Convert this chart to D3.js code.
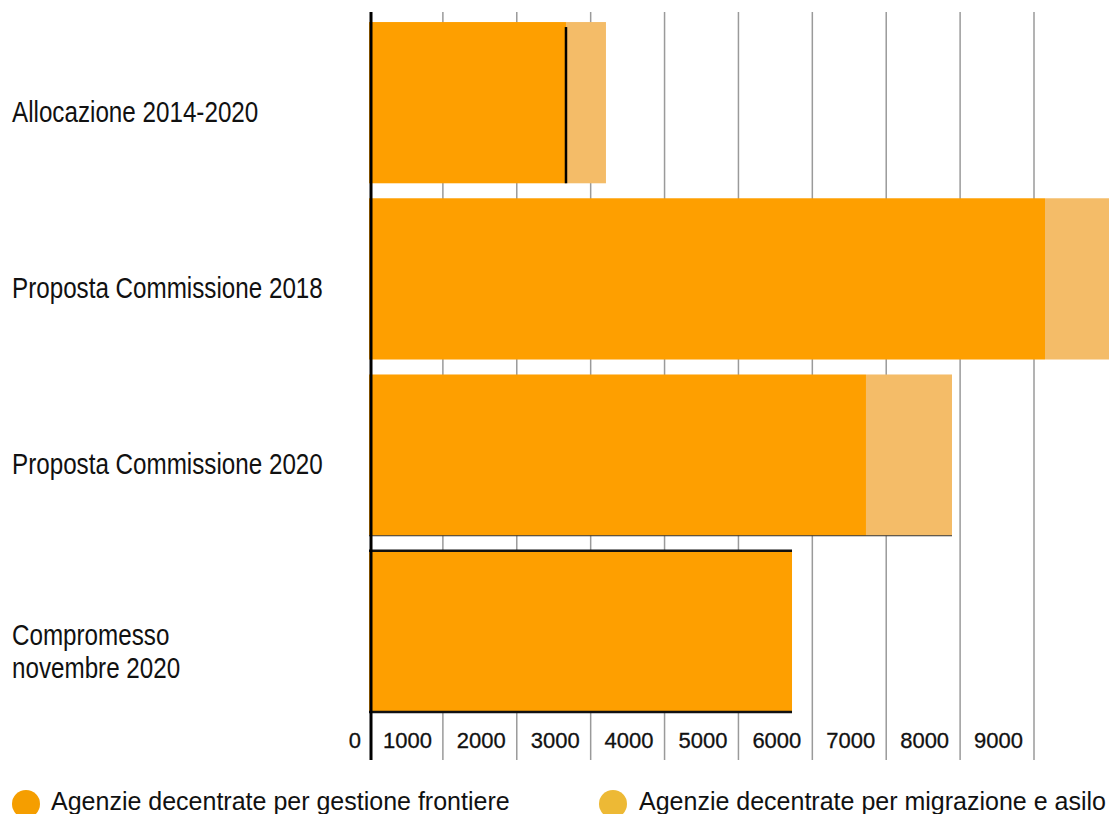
<!DOCTYPE html>
<html>
<head>
<meta charset="utf-8">
<script src="https://cdn.jsdelivr.net/npm/d3@7"></script>
<style>
  html, body { margin: 0; padding: 0; background: #fff; }
  svg { display: block; }
</style>
</head>
<body>
<svg id="chart" width="1109" height="814"></svg>
<script>
// ---- data ----
const categories = [
  ["Allocazione 2014-2020"],
  ["Proposta Commissione 2018"],
  ["Proposta Commissione 2020"],
  ["Compromesso", "novembre 2020"]
];
const frontiere = [2666, 9149, 6726, 5725];
const migrazione = [541, 1000, 1164, 0];
const tickValues = [0, 1000, 2000, 3000, 4000, 5000, 6000, 7000, 8000, 9000];
const seriesNames = ["Agenzie decentrate per gestione frontiere", "Agenzie decentrate per migrazione e asilo"];

// ---- layout ----
const W = 1109, H = 814;
const svg = d3.select("#chart");
const keys = categories.map(c => c.join(" "));

const x = d3.scaleLinear().domain([0, 9000]).range([369, 1034]);
const y = d3.scaleBand().domain(keys).range([15, 719]).paddingInner(0.085).paddingOuter(0.04);

const colFront = "#FE9F00";
const colMigr = "#F4BC68";
const colLegend = ["#F59E00", "#EDB935"];

// gridlines
svg.append("g")
  .selectAll("line")
  .data(tickValues.filter(d => d > 0))
  .join("line")
  .attr("x1", d => x(d)).attr("x2", d => x(d))
  .attr("y1", 12).attr("y2", 760)
  .attr("stroke", "#9a9a9a")
  .attr("stroke-width", 1.5);

// bars
const rows = keys.map((k, i) => ({ key: k, f: frontiere[i], m: migrazione[i] }));

const barG = svg.append("g");
barG.selectAll("rect.front")
  .data(rows)
  .join("rect")
  .attr("class", "front")
  .attr("x", x(0))
  .attr("y", d => y(d.key))
  .attr("width", d => x(d.f) - x(0))
  .attr("height", y.bandwidth())
  .attr("fill", colFront);

barG.selectAll("rect.migr")
  .data(rows.filter(d => d.m > 0))
  .join("rect")
  .attr("class", "migr")
  .attr("x", d => x(d.f))
  .attr("y", d => y(d.key))
  .attr("width", d => x(d.f + d.m) - x(d.f))
  .attr("height", y.bandwidth())
  .attr("fill", colMigr);

// thin dark edges as seen in the reference
const r0 = rows[0];
svg.append("line")
  .attr("x1", x(r0.f)).attr("x2", x(r0.f))
  .attr("y1", y(r0.key) + 5).attr("y2", y(r0.key) + y.bandwidth())
  .attr("stroke", "#000").attr("stroke-width", 2.5);
const r3 = rows[3];
[y(r3.key), y(r3.key) + y.bandwidth()].forEach(yy => {
  svg.append("line")
    .attr("x1", x(0)).attr("x2", x(r3.f))
    .attr("y1", yy).attr("y2", yy)
    .attr("stroke", "#111").attr("stroke-width", 2.5);
});
const r2 = rows[2];
svg.append("line")
  .attr("x1", x(0)).attr("x2", x(r2.f + r2.m))
  .attr("y1", y(r2.key) + y.bandwidth()).attr("y2", y(r2.key) + y.bandwidth())
  .attr("stroke", "#333").attr("stroke-width", 1.2);

// zero axis line
svg.append("line")
  .attr("x1", x(0) + 2).attr("x2", x(0) + 2)
  .attr("y1", 12).attr("y2", 760)
  .attr("stroke", "#000")
  .attr("stroke-width", 3);

// tick labels
svg.append("g")
  .selectAll("text")
  .data(tickValues)
  .join("text")
  .attr("x", d => x(d) - (d === 0 ? 8 : 11))
  .attr("y", 748)
  .attr("text-anchor", "end")
  .attr("font-family", "'Liberation Sans', Arial, Helvetica, sans-serif")
  .attr("font-size", 22)
  .attr("fill", "#111")
  .attr("stroke", "#111")
  .attr("stroke-width", 0.3)
  .text(d => d);

// category labels (condensed look via horizontal scaling)
const catG = svg.append("g")
  .attr("transform", "translate(12,0) scale(0.835,1)")
  .attr("font-family", "'Liberation Sans', Arial, Helvetica, sans-serif")
  .attr("font-size", 29)
  .attr("fill", "#111");
categories.forEach((lines, i) => {
  const cy = y(keys[i]) + y.bandwidth() / 2;
  const n = lines.length;
  const t = catG.append("text").attr("x", 0);
  lines.forEach((ln, j) => {
    t.append("tspan")
      .attr("x", 0)
      .attr("y", cy + 19 + j * 33 - (n - 1) * 5)
      .text(ln);
  });
});

// legend
const legendX = [26, 613];
const lg = svg.append("g");
seriesNames.forEach((name, i) => {
  lg.append("circle")
    .attr("cx", legendX[i]).attr("cy", 804).attr("r", 14)
    .attr("fill", colLegend[i]);
  lg.append("text")
    .attr("x", legendX[i] + 25 + i)
    .attr("y", 810)
    .attr("font-family", "'Liberation Sans', Arial, Helvetica, sans-serif")
    .attr("font-size", 25)
    .attr("fill", "#111")
    .text(name);
});
</script>
</body>
</html>
